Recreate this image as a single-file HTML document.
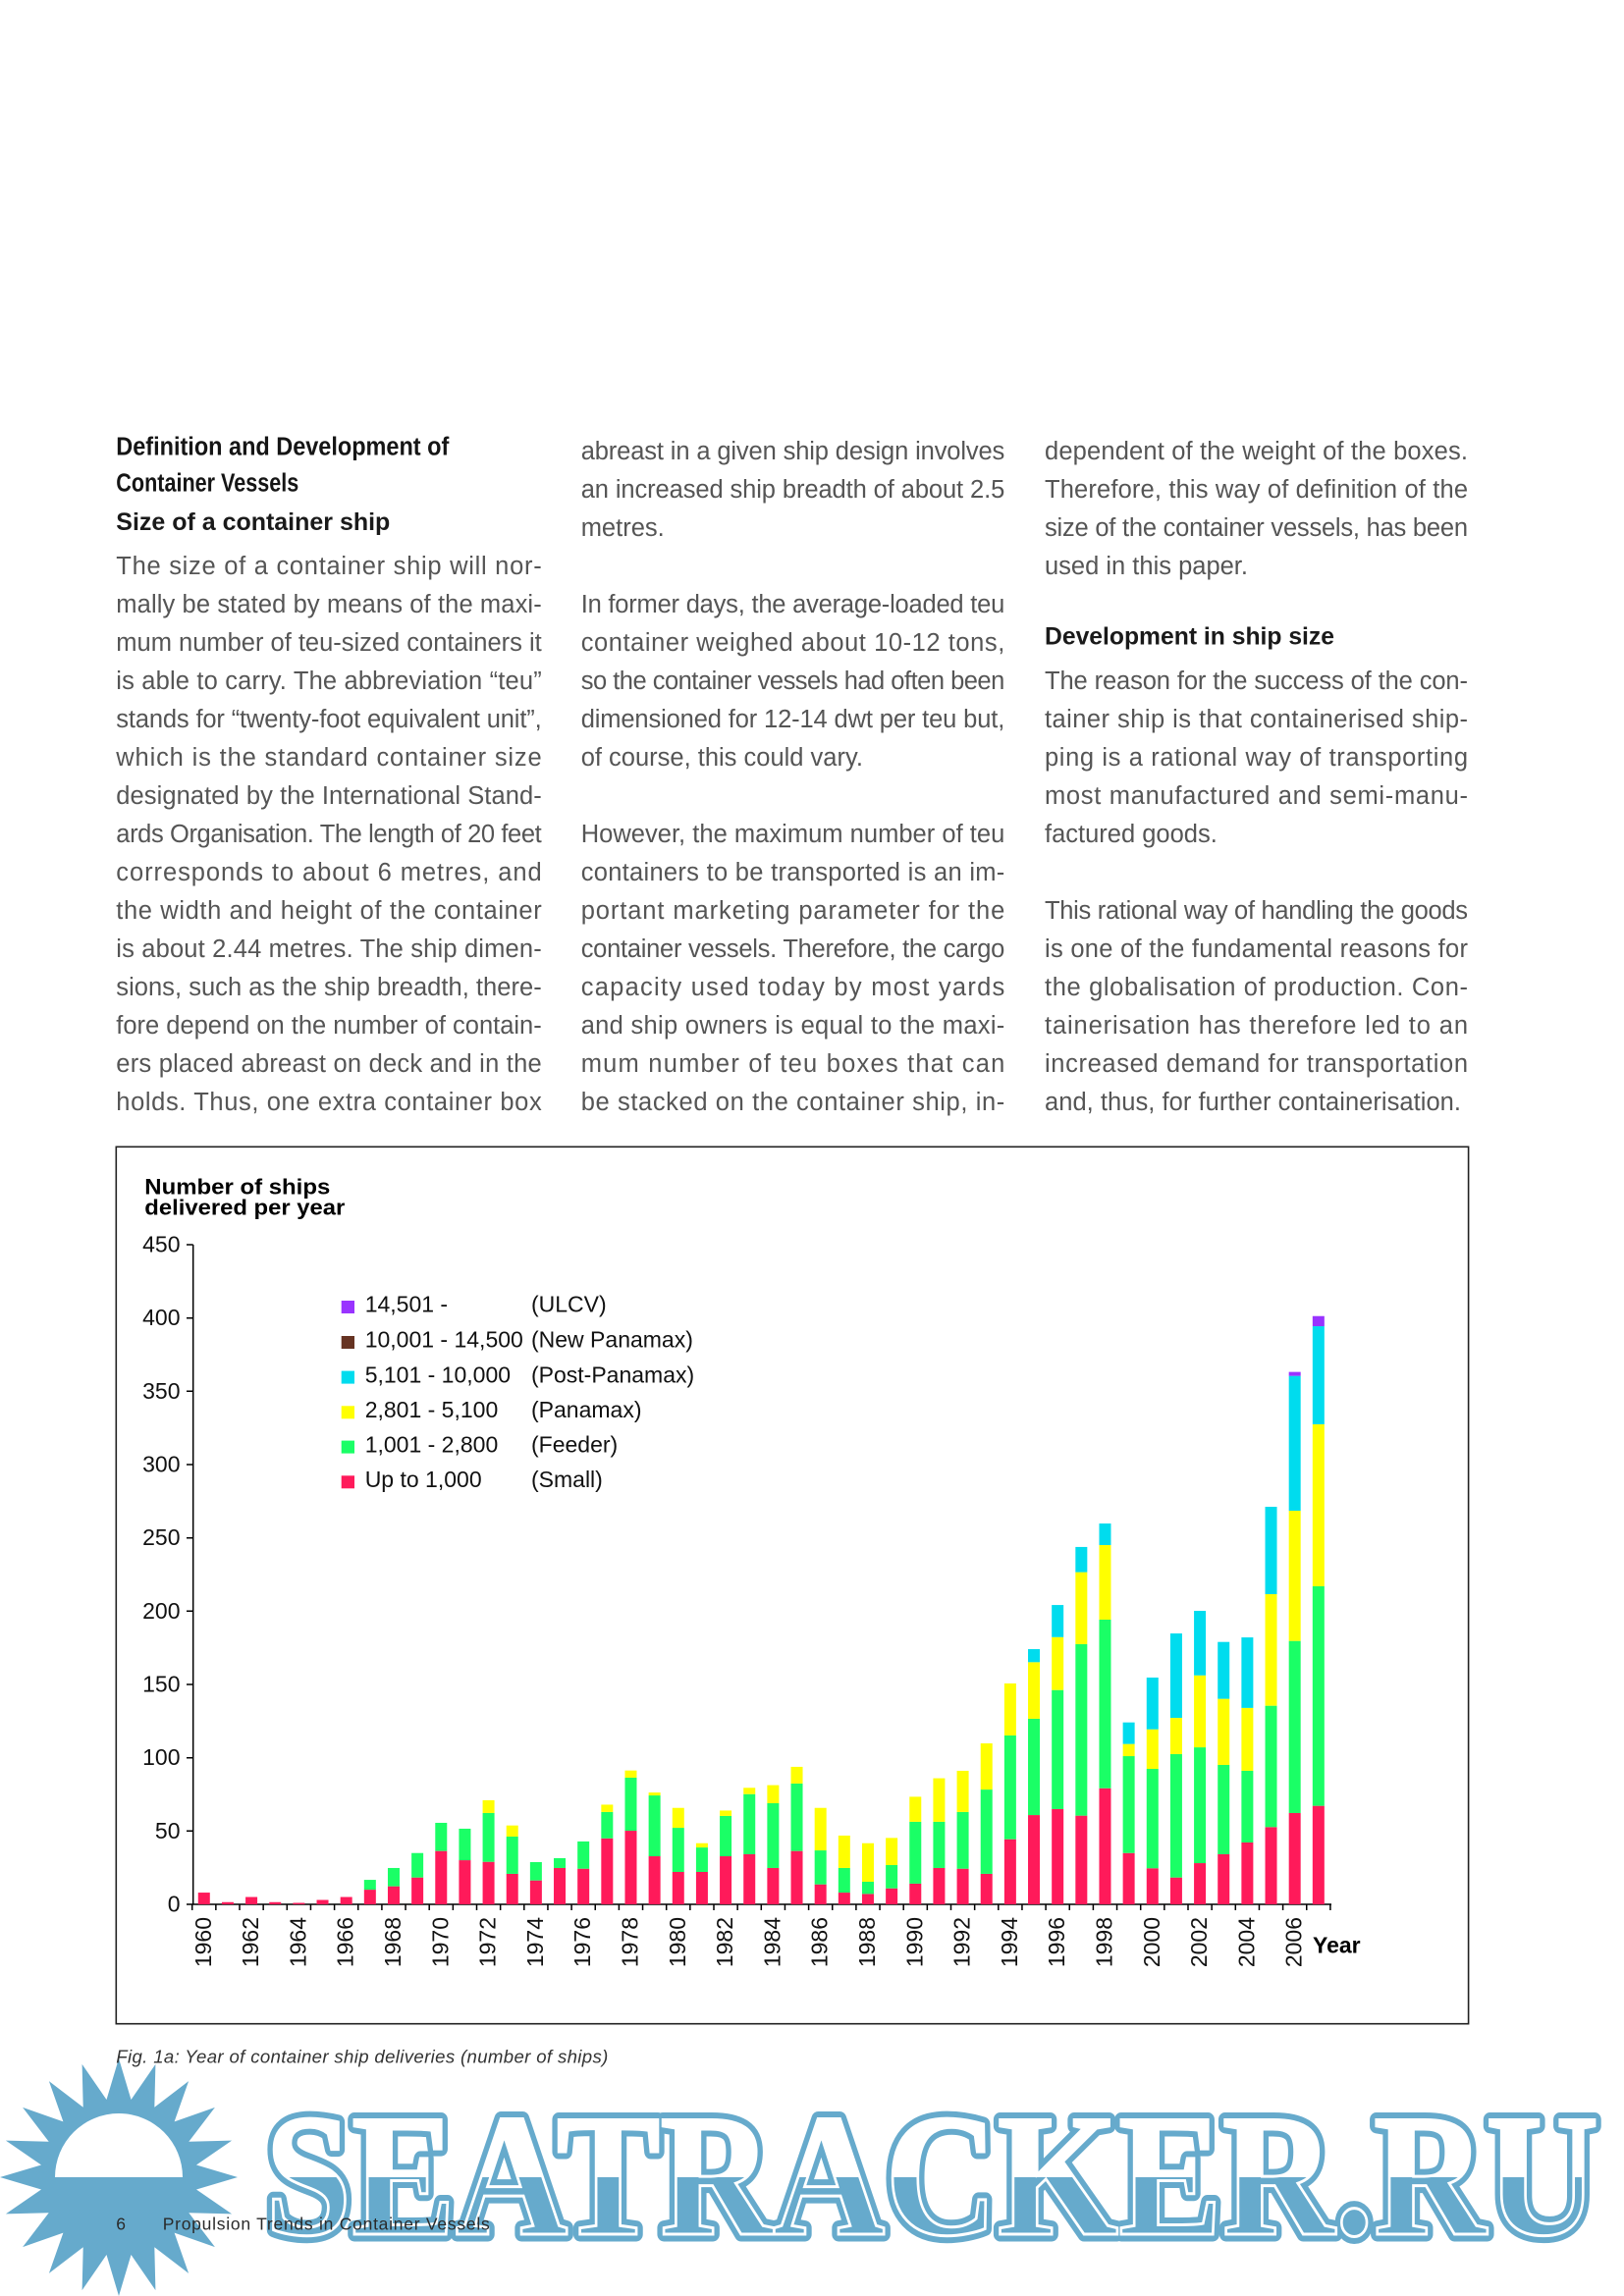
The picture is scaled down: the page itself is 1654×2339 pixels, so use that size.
<!DOCTYPE html>
<html>
<head>
<meta charset="utf-8">
<style>
html,body{margin:0;padding:0;background:#fff;}
svg{display:block;}
.b{font-family:"Liberation Sans",sans-serif;font-size:25.5px;fill:#555;}
.h{font-family:"Liberation Sans",sans-serif;font-weight:bold;fill:#151515;}
.ax{font-family:"Liberation Sans",sans-serif;font-size:23px;fill:#111;}
</style>
</head>
<body>
<svg width="1654" height="2339" viewBox="0 0 1654 2339" xmlns="http://www.w3.org/2000/svg">
<rect width="1654" height="2339" fill="#fff"/>

<!-- Headings left column -->
<text class="h" x="118.3" y="463.3" font-size="25.5" textLength="339" lengthAdjust="spacingAndGlyphs">Definition and Development of</text>
<text class="h" x="118.3" y="500.7" font-size="25.5" textLength="186" lengthAdjust="spacingAndGlyphs">Container Vessels</text>
<text class="h" x="118.3" y="540" font-size="25" textLength="279" lengthAdjust="spacingAndGlyphs" style="fill:#1a1a1a">Size of a container ship</text>

<!-- Left column body -->
<g class="b">
<text x="118.3" y="585" textLength="433.4" lengthAdjust="spacing">The size of a container ship will nor-</text>
<text x="118.3" y="624" textLength="433.4" lengthAdjust="spacing">mally be stated by means of the maxi-</text>
<text x="118.3" y="663" textLength="433.4" lengthAdjust="spacing">mum number of teu-sized containers it</text>
<text x="118.3" y="702" textLength="433.4" lengthAdjust="spacing">is able to carry. The abbreviation “teu”</text>
<text x="118.3" y="741" textLength="433.4" lengthAdjust="spacing">stands for “twenty-foot equivalent unit”,</text>
<text x="118.3" y="780" textLength="433.4" lengthAdjust="spacing">which is the standard container size</text>
<text x="118.3" y="819" textLength="433.4" lengthAdjust="spacing">designated by the International Stand-</text>
<text x="118.3" y="858" textLength="433.4" lengthAdjust="spacing">ards Organisation. The length of 20 feet</text>
<text x="118.3" y="897" textLength="433.4" lengthAdjust="spacing">corresponds to about 6 metres, and</text>
<text x="118.3" y="936" textLength="433.4" lengthAdjust="spacing">the width and height of the container</text>
<text x="118.3" y="975" textLength="433.4" lengthAdjust="spacing">is about 2.44 metres. The ship dimen-</text>
<text x="118.3" y="1014" textLength="433.4" lengthAdjust="spacing">sions, such as the ship breadth, there-</text>
<text x="118.3" y="1053" textLength="433.4" lengthAdjust="spacing">fore depend on the number of contain-</text>
<text x="118.3" y="1092" textLength="433.4" lengthAdjust="spacing">ers placed abreast on deck and in the</text>
<text x="118.3" y="1131" textLength="433.4" lengthAdjust="spacing">holds. Thus, one extra container box</text>
</g>

<!-- Middle column body -->
<g class="b">
<text x="591.7" y="468" textLength="431.6" lengthAdjust="spacing">abreast in a given ship design involves</text>
<text x="591.7" y="507" textLength="431.6" lengthAdjust="spacing">an increased ship breadth of about 2.5</text>
<text x="591.7" y="546">metres.</text>
<text x="591.7" y="624" textLength="431.6" lengthAdjust="spacing">In former days, the average-loaded teu</text>
<text x="591.7" y="663" textLength="431.6" lengthAdjust="spacing">container weighed about 10-12 tons,</text>
<text x="591.7" y="702" textLength="431.6" lengthAdjust="spacing">so the container vessels had often been</text>
<text x="591.7" y="741" textLength="431.6" lengthAdjust="spacing">dimensioned for 12-14 dwt per teu but,</text>
<text x="591.7" y="780">of course, this could vary.</text>
<text x="591.7" y="858" textLength="431.6" lengthAdjust="spacing">However, the maximum number of teu</text>
<text x="591.7" y="897" textLength="431.6" lengthAdjust="spacing">containers to be transported is an im-</text>
<text x="591.7" y="936" textLength="431.6" lengthAdjust="spacing">portant marketing parameter for the</text>
<text x="591.7" y="975" textLength="431.6" lengthAdjust="spacing">container vessels. Therefore, the cargo</text>
<text x="591.7" y="1014" textLength="431.6" lengthAdjust="spacing">capacity used today by most yards</text>
<text x="591.7" y="1053" textLength="431.6" lengthAdjust="spacing">and ship owners is equal to the maxi-</text>
<text x="591.7" y="1092" textLength="431.6" lengthAdjust="spacing">mum number of teu boxes that can</text>
<text x="591.7" y="1131" textLength="431.6" lengthAdjust="spacing">be stacked on the container ship, in-</text>
</g>

<!-- Right column body -->
<g class="b">
<text x="1064" y="468" textLength="431" lengthAdjust="spacing">dependent of the weight of the boxes.</text>
<text x="1064" y="507" textLength="431" lengthAdjust="spacing">Therefore, this way of definition of the</text>
<text x="1064" y="546" textLength="431" lengthAdjust="spacing">size of the container vessels, has been</text>
<text x="1064" y="585">used in this paper.</text>
<text x="1064" y="702" textLength="431" lengthAdjust="spacing">The reason for the success of the con-</text>
<text x="1064" y="741" textLength="431" lengthAdjust="spacing">tainer ship is that containerised ship-</text>
<text x="1064" y="780" textLength="431" lengthAdjust="spacing">ping is a rational way of transporting</text>
<text x="1064" y="819" textLength="431" lengthAdjust="spacing">most manufactured and semi-manu-</text>
<text x="1064" y="858">factured goods.</text>
<text x="1064" y="936" textLength="431" lengthAdjust="spacing">This rational way of handling the goods</text>
<text x="1064" y="975" textLength="431" lengthAdjust="spacing">is one of the fundamental reasons for</text>
<text x="1064" y="1014" textLength="431" lengthAdjust="spacing">the globalisation of production. Con-</text>
<text x="1064" y="1053" textLength="431" lengthAdjust="spacing">tainerisation has therefore led to an</text>
<text x="1064" y="1092" textLength="431" lengthAdjust="spacing">increased demand for transportation</text>
<text x="1064" y="1131" textLength="424" lengthAdjust="spacing">and, thus, for further containerisation.</text>
</g>
<text class="h" x="1064" y="656.7" font-size="25" textLength="295" lengthAdjust="spacingAndGlyphs" style="fill:#1a1a1a">Development in ship size</text>

<!-- Chart box -->
<rect x="118.3" y="1168.3" width="1377.3" height="893.4" fill="none" stroke="#222" stroke-width="1.6"/>

<!-- Chart title -->
<text class="h" x="147.3" y="1216.7" font-size="22" textLength="189" lengthAdjust="spacingAndGlyphs" style="fill:#000">Number of ships</text>
<text class="h" x="147.3" y="1237.7" font-size="22" textLength="204" lengthAdjust="spacingAndGlyphs" style="fill:#000">delivered per year</text>

<!-- Axes -->
<g stroke="#000" stroke-width="1.5" fill="none">
<line x1="196.7" y1="1268" x2="196.7" y2="1940"/>
<line x1="190" y1="1940" x2="1356" y2="1940"/>
<path d="M190 1268H196.7M190 1342.7H196.7M190 1417.3H196.7M190 1492H196.7M190 1566.7H196.7M190 1641.3H196.7M190 1716H196.7M190 1790.7H196.7M190 1865.3H196.7"/>
<path d="M195.7 1940v6M219.85 1940v6M244 1940v6M268.15 1940v6M292.3 1940v6M316.45 1940v6M340.6 1940v6M364.75 1940v6M388.9 1940v6M413.05 1940v6M437.2 1940v6M461.35 1940v6M485.5 1940v6M509.65 1940v6M533.8 1940v6M557.95 1940v6M582.1 1940v6M606.25 1940v6M630.4 1940v6M654.55 1940v6M678.7 1940v6M702.85 1940v6M727 1940v6M751.15 1940v6M775.3 1940v6M799.45 1940v6M823.6 1940v6M847.75 1940v6M871.9 1940v6M896.05 1940v6M920.2 1940v6M944.35 1940v6M968.5 1940v6M992.65 1940v6M1016.8 1940v6M1040.95 1940v6M1065.1 1940v6M1089.25 1940v6M1113.4 1940v6M1137.55 1940v6M1161.7 1940v6M1185.85 1940v6M1210 1940v6M1234.15 1940v6M1258.3 1940v6M1282.45 1940v6M1306.6 1940v6M1330.75 1940v6M1354.9 1940v6"/>
</g>

<!-- Y labels -->
<g class="ax" text-anchor="end">
<text x="183.5" y="1275.5">450</text>
<text x="183.5" y="1350.2">400</text>
<text x="183.5" y="1424.8">350</text>
<text x="183.5" y="1499.5">300</text>
<text x="183.5" y="1574.2">250</text>
<text x="183.5" y="1648.8">200</text>
<text x="183.5" y="1723.5">150</text>
<text x="183.5" y="1798.2">100</text>
<text x="183.5" y="1872.8">50</text>
<text x="183.5" y="1947.5">0</text>
</g>

<!-- X labels -->
<g class="ax" text-anchor="end">
<text transform="translate(214.8,1953) rotate(-90)">1960</text>
<text transform="translate(263.1,1953) rotate(-90)">1962</text>
<text transform="translate(311.4,1953) rotate(-90)">1964</text>
<text transform="translate(359.7,1953) rotate(-90)">1966</text>
<text transform="translate(408,1953) rotate(-90)">1968</text>
<text transform="translate(456.3,1953) rotate(-90)">1970</text>
<text transform="translate(504.6,1953) rotate(-90)">1972</text>
<text transform="translate(552.9,1953) rotate(-90)">1974</text>
<text transform="translate(601.2,1953) rotate(-90)">1976</text>
<text transform="translate(649.5,1953) rotate(-90)">1978</text>
<text transform="translate(697.8,1953) rotate(-90)">1980</text>
<text transform="translate(746.1,1953) rotate(-90)">1982</text>
<text transform="translate(794.4,1953) rotate(-90)">1984</text>
<text transform="translate(842.7,1953) rotate(-90)">1986</text>
<text transform="translate(891,1953) rotate(-90)">1988</text>
<text transform="translate(939.3,1953) rotate(-90)">1990</text>
<text transform="translate(987.6,1953) rotate(-90)">1992</text>
<text transform="translate(1035.9,1953) rotate(-90)">1994</text>
<text transform="translate(1084.2,1953) rotate(-90)">1996</text>
<text transform="translate(1132.5,1953) rotate(-90)">1998</text>
<text transform="translate(1180.8,1953) rotate(-90)">2000</text>
<text transform="translate(1229.1,1953) rotate(-90)">2002</text>
<text transform="translate(1277.4,1953) rotate(-90)">2004</text>
<text transform="translate(1325.7,1953) rotate(-90)">2006</text>
</g>
<text class="h" x="1337" y="1989.3" font-size="23" style="fill:#000">Year</text>

<!-- Bars: mapped (i, value) -> screen -->
<g transform="matrix(24.15 0 0 -1.4933 201.775 1940)">
<g fill="#ff1a5a">
<rect x="0" y="0" width="0.497" height="8"/>
<rect x="1" y="0" width="0.497" height="1.5"/>
<rect x="2" y="0" width="0.497" height="5"/>
<rect x="3" y="0" width="0.497" height="1.5"/>
<rect x="4" y="0" width="0.497" height="1"/>
<rect x="5" y="0" width="0.497" height="3"/>
<rect x="6" y="0" width="0.497" height="5"/>
<rect x="7" y="0" width="0.497" height="10"/>
<rect x="8" y="0" width="0.497" height="12.3"/>
<rect x="9" y="0" width="0.497" height="18.3"/>
<rect x="10" y="0" width="0.497" height="36.4"/>
<rect x="11" y="0" width="0.497" height="30.1"/>
<rect x="12" y="0" width="0.497" height="29"/>
<rect x="13" y="0" width="0.497" height="20.8"/>
<rect x="14" y="0" width="0.497" height="16.3"/>
<rect x="15" y="0" width="0.497" height="24.8"/>
<rect x="16" y="0" width="0.497" height="24.3"/>
<rect x="17" y="0" width="0.497" height="45"/>
<rect x="18" y="0" width="0.497" height="50.2"/>
<rect x="19" y="0" width="0.497" height="32.8"/>
<rect x="20" y="0" width="0.497" height="22.1"/>
<rect x="21" y="0" width="0.497" height="22.1"/>
<rect x="22" y="0" width="0.497" height="32.8"/>
<rect x="23" y="0" width="0.497" height="34.2"/>
<rect x="24" y="0" width="0.497" height="24.8"/>
<rect x="25" y="0" width="0.497" height="36.4"/>
<rect x="26" y="0" width="0.497" height="13.6"/>
<rect x="27" y="0" width="0.497" height="8"/>
<rect x="28" y="0" width="0.497" height="7.1"/>
<rect x="29" y="0" width="0.497" height="10.9"/>
<rect x="30" y="0" width="0.497" height="14.1"/>
<rect x="31" y="0" width="0.497" height="24.8"/>
<rect x="32" y="0" width="0.497" height="24.3"/>
<rect x="33" y="0" width="0.497" height="20.8"/>
<rect x="34" y="0" width="0.497" height="44.4"/>
<rect x="35" y="0" width="0.497" height="60.9"/>
<rect x="36" y="0" width="0.497" height="65"/>
<rect x="37" y="0" width="0.497" height="60.5"/>
<rect x="38" y="0" width="0.497" height="79.2"/>
<rect x="39" y="0" width="0.497" height="35"/>
<rect x="40" y="0" width="0.497" height="24.6"/>
<rect x="41" y="0" width="0.497" height="18.3"/>
<rect x="42" y="0" width="0.497" height="28.1"/>
<rect x="43" y="0" width="0.497" height="34.2"/>
<rect x="44" y="0" width="0.497" height="42.2"/>
<rect x="45" y="0" width="0.497" height="52.7"/>
<rect x="46" y="0" width="0.497" height="62.3"/>
<rect x="47" y="0" width="0.497" height="67.2"/>
</g>
<g fill="#1aff66">
<rect x="7" y="10" width="0.497" height="6.7"/>
<rect x="8" y="12.3" width="0.497" height="12.5"/>
<rect x="9" y="18.3" width="0.497" height="16.7"/>
<rect x="10" y="36.4" width="0.497" height="19.2"/>
<rect x="11" y="30.1" width="0.497" height="21.5"/>
<rect x="12" y="29" width="0.497" height="33.3"/>
<rect x="13" y="20.8" width="0.497" height="25.4"/>
<rect x="14" y="16.3" width="0.497" height="12.5"/>
<rect x="15" y="24.8" width="0.497" height="6.7"/>
<rect x="16" y="24.3" width="0.497" height="18.6"/>
<rect x="17" y="45" width="0.497" height="18"/>
<rect x="18" y="50.2" width="0.497" height="36.2"/>
<rect x="19" y="32.8" width="0.497" height="41.5"/>
<rect x="20" y="22.1" width="0.497" height="30.1"/>
<rect x="21" y="22.1" width="0.497" height="16.7"/>
<rect x="22" y="32.8" width="0.497" height="27.5"/>
<rect x="23" y="34.2" width="0.497" height="41"/>
<rect x="24" y="24.8" width="0.497" height="44.2"/>
<rect x="25" y="36.4" width="0.497" height="46"/>
<rect x="26" y="13.6" width="0.497" height="23.2"/>
<rect x="27" y="8" width="0.497" height="16.8"/>
<rect x="28" y="7.1" width="0.497" height="8.3"/>
<rect x="29" y="10.9" width="0.497" height="15.9"/>
<rect x="30" y="14.1" width="0.497" height="42.2"/>
<rect x="31" y="24.8" width="0.497" height="31.5"/>
<rect x="32" y="24.3" width="0.497" height="38.7"/>
<rect x="33" y="20.8" width="0.497" height="57.5"/>
<rect x="34" y="44.4" width="0.497" height="70.8"/>
<rect x="35" y="60.9" width="0.497" height="65.7"/>
<rect x="36" y="65" width="0.497" height="81.2"/>
<rect x="37" y="60.5" width="0.497" height="117"/>
<rect x="38" y="79.2" width="0.497" height="115"/>
<rect x="39" y="35" width="0.497" height="66.1"/>
<rect x="40" y="24.6" width="0.497" height="67.8"/>
<rect x="41" y="18.3" width="0.497" height="84.2"/>
<rect x="42" y="28.1" width="0.497" height="79"/>
<rect x="43" y="34.2" width="0.497" height="60.9"/>
<rect x="44" y="42.2" width="0.497" height="48.9"/>
<rect x="45" y="52.7" width="0.497" height="82.8"/>
<rect x="46" y="62.3" width="0.497" height="117.4"/>
<rect x="47" y="67.2" width="0.497" height="149.8"/>
</g>
<g fill="#ffff00">
<rect x="12" y="62.3" width="0.497" height="8.7"/>
<rect x="13" y="46.2" width="0.497" height="7.6"/>
<rect x="17" y="63" width="0.497" height="5"/>
<rect x="18" y="86.4" width="0.497" height="4.9"/>
<rect x="19" y="74.3" width="0.497" height="2"/>
<rect x="20" y="52.2" width="0.497" height="13.6"/>
<rect x="21" y="38.8" width="0.497" height="2.9"/>
<rect x="22" y="60.3" width="0.497" height="3.7"/>
<rect x="23" y="75.2" width="0.497" height="4.3"/>
<rect x="24" y="69" width="0.497" height="12.3"/>
<rect x="25" y="82.4" width="0.497" height="11.4"/>
<rect x="26" y="36.8" width="0.497" height="29"/>
<rect x="27" y="24.8" width="0.497" height="22.1"/>
<rect x="28" y="15.4" width="0.497" height="26.3"/>
<rect x="29" y="26.8" width="0.497" height="18.5"/>
<rect x="30" y="56.3" width="0.497" height="17.1"/>
<rect x="31" y="56.3" width="0.497" height="29.7"/>
<rect x="32" y="63" width="0.497" height="28.1"/>
<rect x="33" y="78.3" width="0.497" height="31.5"/>
<rect x="34" y="115.2" width="0.497" height="35.5"/>
<rect x="35" y="126.6" width="0.497" height="38.6"/>
<rect x="36" y="146.2" width="0.497" height="36.1"/>
<rect x="37" y="177.5" width="0.497" height="49.1"/>
<rect x="38" y="194.2" width="0.497" height="50.9"/>
<rect x="39" y="101.1" width="0.497" height="8.3"/>
<rect x="40" y="92.4" width="0.497" height="27"/>
<rect x="41" y="102.5" width="0.497" height="24.7"/>
<rect x="42" y="107.1" width="0.497" height="49.1"/>
<rect x="43" y="95.1" width="0.497" height="45.1"/>
<rect x="44" y="91.1" width="0.497" height="42.9"/>
<rect x="45" y="135.5" width="0.497" height="76.1"/>
<rect x="46" y="179.7" width="0.497" height="88.8"/>
<rect x="47" y="217" width="0.497" height="110.5"/>
</g>
<g fill="#00dcee">
<rect x="35" y="165.2" width="0.497" height="8.9"/>
<rect x="36" y="182.3" width="0.497" height="21.9"/>
<rect x="37" y="226.6" width="0.497" height="17.2"/>
<rect x="38" y="245.1" width="0.497" height="14.7"/>
<rect x="39" y="109.4" width="0.497" height="14.7"/>
<rect x="40" y="119.4" width="0.497" height="35.3"/>
<rect x="41" y="127.2" width="0.497" height="57.6"/>
<rect x="42" y="156.2" width="0.497" height="44"/>
<rect x="43" y="140.2" width="0.497" height="38.8"/>
<rect x="44" y="134" width="0.497" height="48.1"/>
<rect x="45" y="211.6" width="0.497" height="59.6"/>
<rect x="46" y="268.5" width="0.497" height="92"/>
<rect x="47" y="327.5" width="0.497" height="66.9"/>
</g>
<g fill="#9933ff">
<rect x="46" y="360.5" width="0.497" height="2.7"/>
<rect x="47" y="394.4" width="0.497" height="6.9"/>
</g>
</g>

<!-- Legend -->
<g>
<rect x="347.7" y="1325" width="13.3" height="13" fill="#9933ff"/>
<rect x="347.7" y="1361" width="13.3" height="13" fill="#663322"/>
<rect x="347.7" y="1396.6" width="13.3" height="13" fill="#00dcee"/>
<rect x="347.7" y="1432.3" width="13.3" height="13" fill="#ffff00"/>
<rect x="347.7" y="1467.6" width="13.3" height="13" fill="#1aff66"/>
<rect x="347.7" y="1503.3" width="13.3" height="13" fill="#ff1a5a"/>
</g>
<g class="ax">
<text x="371.7" y="1336.7">14,501 -</text>
<text x="541" y="1336.7">(ULCV)</text>
<text x="371.7" y="1372.7">10,001 - 14,500</text>
<text x="541" y="1372.7">(New Panamax)</text>
<text x="371.7" y="1408.3">5,101 - 10,000</text>
<text x="541" y="1408.3">(Post-Panamax)</text>
<text x="371.7" y="1444">2,801 - 5,100</text>
<text x="541" y="1444">(Panamax)</text>
<text x="371.7" y="1479.3">1,001 - 2,800</text>
<text x="541" y="1479.3">(Feeder)</text>
<text x="371.7" y="1515">Up to 1,000</text>
<text x="541" y="1515">(Small)</text>
</g>

<!-- Watermark -->
<defs>
<clipPath id="top"><rect x="0" y="2000" width="1654" height="218"/></clipPath>
<clipPath id="bot"><rect x="0" y="2218" width="1654" height="200"/></clipPath>
</defs>
<polygon fill="#66aacc" points="121,2097 133.5,2139 158.4,2102.9 157.3,2146.7 192.1,2120.1 177.6,2161.4 218.9,2146.9 192.3,2181.7 236.1,2180.6 200,2205.5 242,2218 200,2230.5 236.1,2255.4 192.3,2254.3 218.9,2289.1 177.6,2274.6 192.1,2315.9 157.3,2289.3 158.4,2333.1 133.5,2297 121,2339 108.5,2297 83.6,2333.1 84.7,2289.3 49.9,2315.9 64.4,2274.6 23.1,2289.1 49.7,2254.3 5.9,2255.4 42,2230.5 0,2218 42,2205.5 5.9,2180.6 49.7,2181.7 23.1,2146.9 64.4,2161.4 49.9,2120.1 84.7,2146.7 83.6,2102.9 108.5,2139"/>
<path d="M56 2218 A65 65 0 0 1 186 2218 Z" fill="#fff"/>

<g font-family="'Liberation Serif',serif" font-weight="bold" font-size="178">
<text x="270" y="2276" textLength="1358" lengthAdjust="spacingAndGlyphs" fill="#66aacc" stroke="#66aacc" stroke-width="15" stroke-linejoin="round">SEATRACKER.RU</text>
<g clip-path="url(#top)">
<text x="270" y="2276" textLength="1358" lengthAdjust="spacingAndGlyphs" fill="#fff" stroke="#fff" stroke-width="3">SEATRACKER.RU</text>
</g>
<g clip-path="url(#bot)">
<text x="270" y="2276" textLength="1358" lengthAdjust="spacingAndGlyphs" fill="#66aacc" stroke="#fff" stroke-width="3">SEATRACKER.RU</text>
</g>
</g>

<!-- Caption & footer -->
<text x="118.3" y="2101.7" font-family="'Liberation Sans',sans-serif" font-style="italic" font-size="18.6" fill="#333" textLength="501" lengthAdjust="spacing">Fig. 1a: Year of container ship deliveries (number of ships)</text>
<text x="118.3" y="2271.7" font-family="'Liberation Sans',sans-serif" font-size="17.5" fill="#2a2a2a">6</text>
<text x="165.7" y="2271.7" font-family="'Liberation Sans',sans-serif" font-size="17.5" fill="#2a2a2a" textLength="333" lengthAdjust="spacing">Propulsion Trends in Container Vessels</text>
</svg>
</body>
</html>
